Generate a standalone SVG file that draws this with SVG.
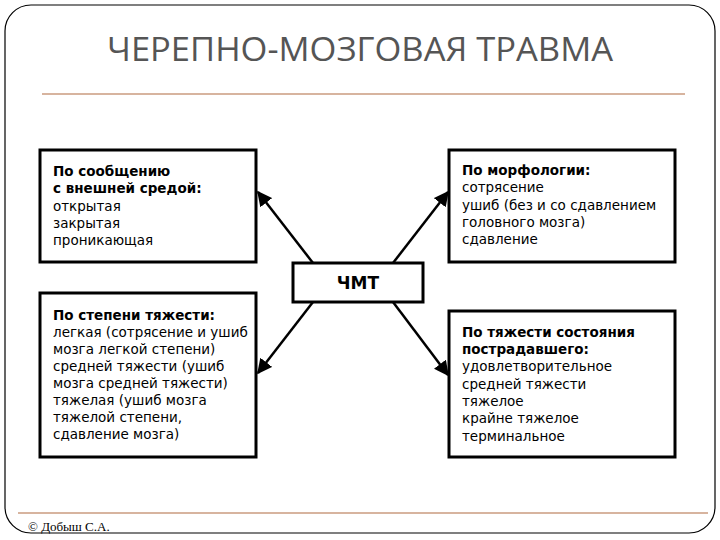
<svg xmlns="http://www.w3.org/2000/svg" width="720" height="540" viewBox="0 0 720 540">
<style>
.box{fill:#fff;stroke:#000;stroke-width:3}
.t{font-family:"DejaVu Sans","Liberation Sans",sans-serif;font-size:13.5px;fill:#000}
.b{font-weight:bold}
.c{stroke:#000;stroke-width:2.5;fill:none;marker-end:url(#ah)}
</style>
<defs>
<marker id="ah" viewBox="0 0 10 10" refX="9" refY="5" markerWidth="6" markerHeight="6" orient="auto" markerUnits="strokeWidth">
<path d="M0,0 L10,5 L0,10 z" fill="#000"/>
</marker>
</defs>
<rect width="720" height="540" fill="#fff"/>
<rect x="5" y="5" width="710" height="528" rx="26" fill="#fff" stroke="#000" stroke-width="1.2"/>
<text x="360" y="61" text-anchor="middle" font-family="Open Sans,Liberation Sans,sans-serif" font-size="33" textLength="506" lengthAdjust="spacingAndGlyphs" fill="#555">ЧЕРЕПНО-МОЗГОВАЯ ТРАВМА</text>
<line x1="42" y1="94" x2="685" y2="94" stroke="#b06a40" stroke-width="1.2"/>
<line x1="18" y1="513" x2="708" y2="513" stroke="#b06a40" stroke-width="1.2"/>
<text x="28" y="531" font-family="Liberation Serif,serif" font-size="13" fill="#000">© Добыш С.А.</text>
<g id="connectors">
<line class="c" x1="313" y1="263" x2="258" y2="192"/>
<line class="c" x1="393" y1="263" x2="448" y2="192"/>
<line class="c" x1="313" y1="302" x2="258" y2="373"/>
<line class="c" x1="393" y1="302" x2="448" y2="375"/>
</g>
<g id="center"><rect class="box" x="293" y="263" width="130" height="39"/>
<text class="t b" x="358" y="289" text-anchor="middle" style="font-size:17px">ЧМТ</text></g>
<g id="tl"><rect class="box" x="40" y="150" width="216" height="112"/>
<text class="t"><tspan class="b" x="53" y="176">По сообщению</tspan><tspan class="b" x="53" y="193">с внешней средой:</tspan><tspan x="53" y="211">открытая</tspan><tspan x="53" y="228">закрытая</tspan><tspan x="53" y="245">проникающая</tspan></text></g>
<g id="tr"><rect class="box" x="449" y="150" width="226" height="112"/>
<text class="t"><tspan class="b" x="462" y="175">По морфологии:</tspan><tspan x="462" y="192">сотрясение</tspan><tspan x="462" y="210">ушиб (без и со сдавлением</tspan><tspan x="462" y="227">головного мозга)</tspan><tspan x="462" y="244">сдавление</tspan></text></g>
<g id="bl"><rect class="box" x="40" y="293" width="216" height="164"/>
<text class="t"><tspan class="b" x="53" y="320">По степени тяжести:</tspan><tspan x="53" y="337">легкая (сотрясение и ушиб</tspan><tspan x="53" y="354">мозга легкой степени)</tspan><tspan x="53" y="371">средней тяжести (ушиб</tspan><tspan x="53" y="388">мозга средней тяжести)</tspan><tspan x="53" y="405">тяжелая (ушиб мозга</tspan><tspan x="53" y="422">тяжелой степени,</tspan><tspan x="53" y="439">сдавление мозга)</tspan></text></g>
<g id="br"><rect class="box" x="449" y="311" width="226" height="146"/>
<text class="t"><tspan class="b" x="462" y="337">По тяжести состояния</tspan><tspan class="b" x="462" y="354">пострадавшего:</tspan><tspan x="462" y="371">удовлетворительное</tspan><tspan x="462" y="389">средней тяжести</tspan><tspan x="462" y="406">тяжелое</tspan><tspan x="462" y="423">крайне тяжелое</tspan><tspan x="462" y="441">терминальное</tspan></text></g>
</svg>
